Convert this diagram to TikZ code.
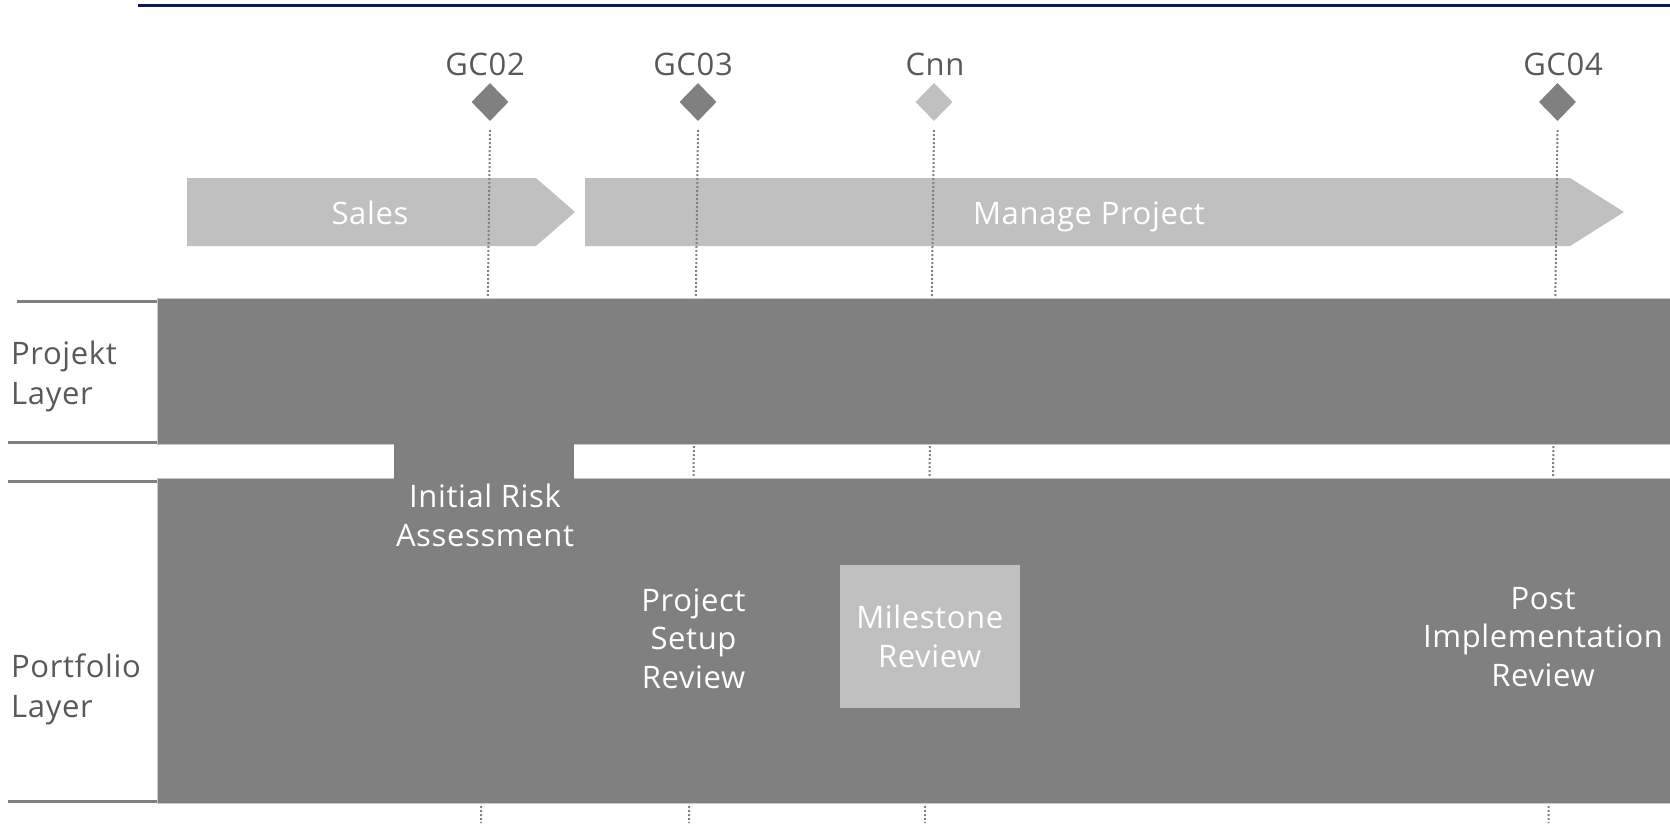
\documentclass[tikz,border=0pt]{standalone}
\usepackage{fontspec}
\setmainfont{Open Sans}[LetterSpace=2]
\usetikzlibrary{shapes.geometric}
\definecolor{navy}{RGB}{12,24,90}
\definecolor{dgray}{RGB}{128,128,128}
\definecolor{lgray}{RGB}{192,192,192}
\definecolor{tgray}{RGB}{89,89,89}
\definecolor{edgec}{RGB}{200,200,200}
\begin{document}
\begin{tikzpicture}[x=1pt,y=-1pt,
  lbl/.style={font=\fontsize{31}{38.5}\selectfont, inner sep=0pt, align=center},
  sidelbl/.style={font=\fontsize{31}{40}\selectfont, inner sep=0pt, align=left, anchor=west, text=tgray},
  toplbl/.style={lbl, text=tgray, anchor=base},
  ms/.style={diamond, inner sep=0pt, minimum width=37pt, minimum height=38pt, fill=dgray},
  msl/.style={ms, fill=lgray},
  dotline/.style={dgray, line width=2pt, dash pattern=on 2pt off 2pt},
  band/.style={fill=dgray, draw=edgec, line width=1pt},
  sepline/.style={dgray, line width=3pt},
  phase/.style={fill=lgray}]
\useasboundingbox (0,0) rectangle (1670,823);

% phase arrows
\fill[phase] (187,178) -- (536,178) -- (575,212) -- (536,246) -- (187,246) -- cycle;
\fill[phase] (585,178) -- (1570,178) -- (1624,212) -- (1570,246) -- (585,246) -- cycle;
\node[lbl, text=white, anchor=base] (sales) at (370,224) {Sales};
\node[lbl, text=white, anchor=base] (manage) at (1089,224) {Manage Project};

% milestones
\node[ms]  (d1) at (490,102) {};
\node[ms]  (d2) at (698,102) {};
\node[msl] (d3) at (934,102) {};
\node[ms]  (d4) at (1557.5,102) {};
\node[toplbl] (t1) at (485,75) {GC02};
\node[toplbl] (t2) at (693,75) {GC03};
\node[toplbl] (t3) at (935,75) {Cnn};
\node[toplbl] (t4) at (1563,75) {GC04};

% dotted lines
\coordinate (b1) at (481,823);
\coordinate (b2) at (689,823);
\coordinate (b3) at (925,823);
\coordinate (b4) at (1548.5,823);
\draw[dotline] ([yshift=-9pt]d1.south) -- (b1);
\draw[dotline] ([yshift=-9pt]d2.south) -- (b2);
\draw[dotline] ([yshift=-9pt]d3.south) -- (b3);
\draw[dotline] ([yshift=-9pt]d4.south) -- (b4);

% layers
\path[band] (157,298) rectangle (1672,444);
\path[band] (157,478) rectangle (1672,803);
\fill[dgray] (394,443) rectangle (574,479);

% left separators
\draw[sepline] (17,301.5) -- (157,301.5);
\draw[sepline] (8,442) -- (157,442);
\draw[sepline] (8,481) -- (157,481);
\draw[sepline] (8,801.5) -- (157,801.5);

\node[sidelbl] (pl) at (11,376) {Projekt\\Layer};
\node[sidelbl] (pfl) at (11,689) {Portfolio\\Layer};

% reviews
\node[lbl, text=white] (ira) at (485,515.5) {Initial Risk\\Assessment};
\node[lbl, text=white] (psr) at (693.5,638.5) {Project\\Setup\\Review};
\node[lbl, text=white, fill=lgray, minimum width=180pt, minimum height=143pt] (mr) at (929.7,636.4) {Milestone\\Review};
\node[lbl, text=white] (pir) at (1543,637) {Post\\Implementation\\Review};

% top rule
\draw[navy, line width=2.8pt] (138,5.4) -- (1670,5.4);
\end{tikzpicture}
\end{document}
